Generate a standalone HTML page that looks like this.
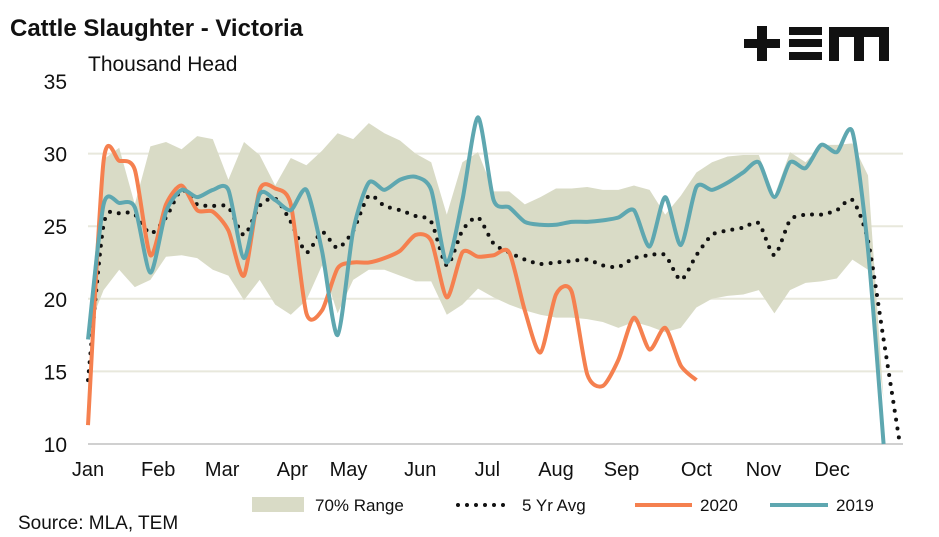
<!DOCTYPE html>
<html><head><meta charset="utf-8"><style>
body{margin:0;background:#fff;font-family:"Liberation Sans",sans-serif}
#wrap{position:relative;width:939px;height:537px;overflow:hidden}
</style></head><body>
<div id="wrap">
<svg id="c" width="939" height="537">
<text x="10" y="36" font-size="24" font-weight="bold" fill="#111">Cattle Slaughter - Victoria</text>
<text x="88" y="71" font-size="21" fill="#111">Thousand Head</text>
<g fill="#111">
<rect x="744" y="39" width="36" height="9"/><rect x="757" y="26" width="10" height="35"/>
<rect x="789" y="27" width="33" height="8"/><rect x="789" y="39" width="33" height="8"/><rect x="789" y="52" width="33" height="8"/>
<path d="M829 61V27h60v34h-10V37h-15v24h-10V37h-15v24z"/>
</g>
<g id="grid"></g><g id="marks"></g>
<text x="18" y="529" font-size="19" fill="#111">Source: MLA, TEM</text>
<g>
<g><rect x="252" y="497" width="52" height="15" fill="#d9dbc6"/><text x="315" y="511" font-size="17" fill="#111">70% Range</text></g>
<g><line x1="458" y1="505" x2="512" y2="505" stroke="#111" stroke-width="4" stroke-dasharray="0 9" stroke-linecap="round"/><text x="522" y="511" font-size="17" fill="#111">5 Yr Avg</text></g>
<g><line x1="635" y1="505" x2="692" y2="505" stroke="#f5804f" stroke-width="4"/><text x="700" y="511" font-size="17" fill="#111">2020</text></g>
<g><line x1="770" y1="505" x2="828" y2="505" stroke="#5ea7b0" stroke-width="4"/><text x="836" y="511" font-size="17" fill="#111">2019</text></g>
</g>
</svg></div>
<script>
const months=["Jan","Feb","Mar","Apr","May","Jun","Jul","Aug","Sep","Oct","Nov","Dec"];
const monthPos=[0,4.5,8.6,13.1,16.7,21.3,25.6,30,34.2,39,43.3,47.7];
const yTicks=[10,15,20,25,30,35];
const s2019=[17.2,26.5,26.6,26.3,21.8,26,27.5,27,27.5,27.5,22.8,27.2,26.8,26.1,27.5,23.3,17.5,24.7,28,27.5,28.2,28.4,27.5,22.5,26.8,32.5,26.8,26.3,25.3,25.1,25.1,25.3,25.3,25.4,25.6,26.1,23.6,27,23.7,27.7,27.5,28,28.7,29.4,27,29.4,29,30.6,30.1,31.5,23.4,10];
const s2020=[11.3,29.5,29.5,28.9,23,26.5,27.8,26.1,26,24.7,21.6,27.5,27.6,26.5,19,19.2,22.1,22.5,22.5,22.8,23.3,24.4,24,20.1,23.2,22.9,23,23.2,19.2,16.3,20.3,20.5,14.8,14,15.8,18.7,16.5,18,15.4,14.4];
const avg5=[14.4,25.1,25.9,25.8,24.5,25.6,27.5,26.5,26.4,26.3,24.4,26.4,26.9,25.3,23.2,24.6,23.5,24.7,27.1,26.4,26.1,25.7,25.3,22.3,24.7,25.6,23.8,23.2,22.7,22.4,22.5,22.6,22.7,22.3,22.2,22.8,23,23,21.3,23,24.4,24.7,24.9,25.2,23,25.4,25.8,25.8,26.1,26.8,24,17.2,10.3];
const rangeHi=[17.9,29.6,30.4,26.5,30.5,30.8,30.3,31.2,31,28.2,30.8,29.9,27.8,29.7,29.2,30.2,31.4,31,32.1,31.4,30.9,30,29.4,25.8,29.4,30.1,27.4,27.4,26.5,27,27.6,27.6,27.7,27.5,27.5,27.8,27.5,25.8,27.1,28.7,29.4,29.8,29.9,29.9,27.1,30.1,29.4,30.6,30.6,30.7,28.5,13,10];
const rangeLo=[17.9,20.6,22,20.8,21.3,22.9,23,22.8,22,21.6,19.9,21.3,19.6,18.9,19.9,22.3,19,21.3,22,22,21.6,21.2,21.2,18.9,19.6,20.7,20.1,19.6,19.2,18.9,18.7,18.7,18.6,18.4,18,18.4,18.1,17.7,18,19.4,20,20.2,20.3,20.6,19,20.6,21.1,21.2,21.4,22.7,22,13,10];
const X=i=>88+i*15.6, Y=v=>444-(v-10)*14.52;
const NS="http://www.w3.org/2000/svg";
function mk(t,p,a){const e=document.createElementNS(NS,t);for(const k in a)e.setAttribute(k,a[k]);p.appendChild(e);return e;}
const grid=document.getElementById('grid'),marks=document.getElementById('marks');
yTicks.forEach(v=>{
 if(v>10&&v<35){const l=mk('line',grid,{x1:88,x2:903,y1:Y(v),y2:Y(v),stroke:'#e8e8dc','stroke-width':2});
 
 }
 const t=mk('text',grid,{x:67,y:Y(v)+8,'font-size':21,'text-anchor':'end',fill:'#111'});t.textContent=v;
 
 
});
const ax=mk('line',grid,{x1:88,x2:903,y1:444,y2:444,stroke:'#d0d0d0','stroke-width':2});


months.forEach((m,i)=>{const t=mk('text',grid,{x:X(monthPos[i]),y:476,'font-size':20,'text-anchor':'middle',fill:'#111'});t.textContent=m;
 
 });
let pts=rangeHi.map((v,i)=>X(i)+','+Y(v)).concat(rangeLo.map((v,i)=>X(i)+','+Y(v)).reverse());
const band=mk('polygon',marks,{points:pts.join(' '),fill:'#d9dbc6'});


function smooth(a){const k=8;const p=a.map((v,i)=>[X(i),Y(v)]);let d='M'+p[0];for(let i=0;i<p.length-1;i++){const p0=p[i-1]||p[i],p1=p[i],p2=p[i+1],p3=p[i+2]||p2;
 d+=` C${p1[0]+(p2[0]-p0[0])/k},${p1[1]+(p2[1]-p0[1])/k} ${p2[0]-(p3[0]-p1[0])/k},${p2[1]-(p3[1]-p1[1])/k} ${p2[0]},${p2[1]}`;}return d;}
const la=mk('path',marks,{d:smooth(avg5),fill:'none',stroke:'#111','stroke-width':4,'stroke-dasharray':'0 9','stroke-linecap':'round'});


const l20=mk('path',marks,{d:smooth(s2020),fill:'none',stroke:'#f5804f','stroke-width':4});


const l19=mk('path',marks,{d:smooth(s2019),fill:'none',stroke:'#5ea7b0','stroke-width':4});


</script></body></html>
